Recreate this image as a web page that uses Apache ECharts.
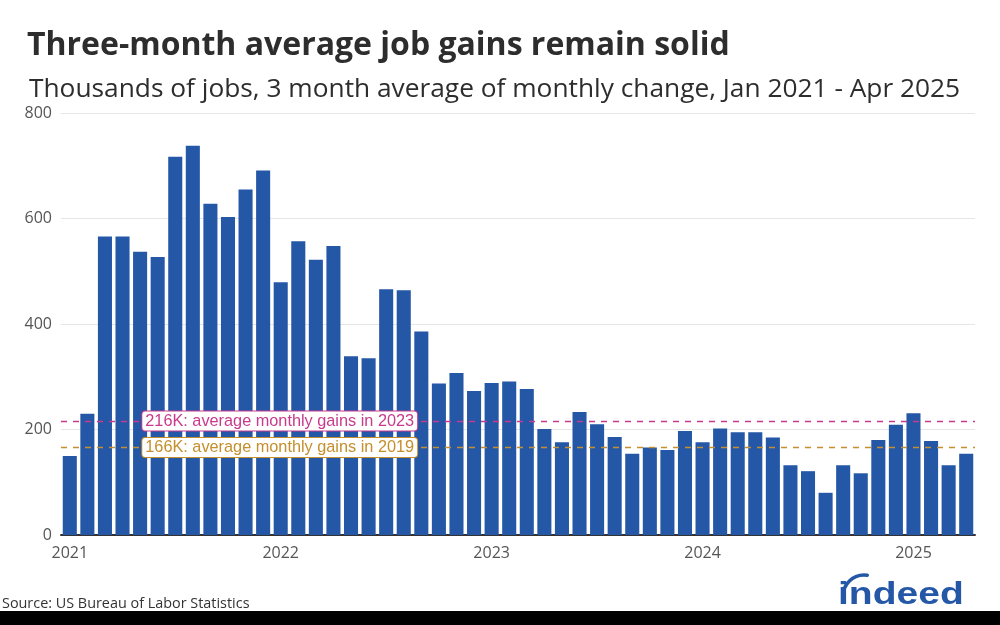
<!DOCTYPE html>
<html>
<head>
<meta charset="utf-8">
<script src="https://cdn.jsdelivr.net/npm/echarts@6/dist/echarts.min.js"></script>
<style>html,body{margin:0;padding:0;background:#fff}#c{width:1000px;height:625px}</style>
</head>
<body>
<div id="c"></div>
<script>
const months = [
  '2021-01','2021-02','2021-03','2021-04','2021-05','2021-06','2021-07','2021-08','2021-09','2021-10','2021-11','2021-12',
  '2022-01','2022-02','2022-03','2022-04','2022-05','2022-06','2022-07','2022-08','2022-09','2022-10','2022-11','2022-12',
  '2023-01','2023-02','2023-03','2023-04','2023-05','2023-06','2023-07','2023-08','2023-09','2023-10','2023-11','2023-12',
  '2024-01','2024-02','2024-03','2024-04','2024-05','2024-06','2024-07','2024-08','2024-09','2024-10','2024-11','2024-12',
  '2025-01','2025-02','2025-03','2025-04'
];
const jobGains = [
  150,230,566,566,537,527,717,738,628,603,655,691,
  479,557,522,548,339,335,466,464,386,287,307,273,
  288,291,277,201,176,233,210,186,154,166,161,197,
  176,202,195,195,185,132,121,80,132,117,180,209,
  231,178,132,154
];
const yTicks = [0, 200, 400, 600, 800];
const avg2023 = 216;
const avg2019 = 166;
const avg2023Label = '216K: average monthly gains in 2023';
const avg2019Label = '166K: average monthly gains in 2019';
const labelAnchorMonth = '2022-01';

const pink = '#c93a8c';
const gold = '#c48f2c';
const blue = '#2557a7';

const chart = echarts.init(document.getElementById('c'));
chart.setOption({
  animation: false,
  backgroundColor: '#fff',
  title: [
    { text: 'Three-month average job gains remain solid', left: 22, top: 25,
      textStyle: { fontFamily: 'Open Sans', fontSize: 32, fontWeight: 'bold', color: '#2d2d2d' } },
    { text: 'Thousands of jobs, 3 month average of monthly change, Jan 2021 - Apr 2025', left: 24, top: 72,
      textStyle: { fontFamily: 'Open Sans', fontSize: 26.3, fontWeight: 'normal', color: '#2d2d2d' } }
  ],
  grid: { left: 61, right: 25, top: 113, bottom: 90 },
  xAxis: {
    type: 'category',
    data: months,
    axisTick: { show: false },
    axisLine: { lineStyle: { color: '#333', width: 2 } },
    axisLabel: {
      interval: 0, margin: 10, fontFamily: 'Open Sans', fontSize: 16, color: '#555',
      formatter: v => v.endsWith('-01') ? v.slice(0, 4) : ''
    }
  },
  yAxis: {
    type: 'value', min: yTicks[0], max: yTicks[yTicks.length - 1], interval: 200,
    axisLine: { show: false }, axisTick: { show: false },
    axisLabel: { margin: 9, fontFamily: 'Open Sans', fontSize: 16, color: '#555' },
    splitLine: { lineStyle: { color: '#e6e6e6', width: 1 } }
  },
  series: [{
    type: 'bar',
    data: jobGains,
    barCategoryGap: '20%',
    itemStyle: { color: blue },
    markLine: {
      silent: true, symbol: 'none',
      label: { show: false },
      data: [
        { yAxis: avg2023, lineStyle: { color: pink, type: [6, 6], width: 1.3 } },
        { yAxis: avg2019, lineStyle: { color: gold, type: [6, 6], width: 1.3 } }
      ]
    },
    markPoint: {
      silent: true, z: 10,
      symbol: 'rect', symbolSize: 0,
      data: [
        { coord: [labelAnchorMonth, avg2023],
          label: { show: true, position: 'inside', formatter: avg2023Label, offset: [-1, 0],
            fontFamily: 'Liberation Sans', fontSize: 16.3, color: pink,
            backgroundColor: '#fff', borderColor: pink, borderWidth: 1, borderRadius: 3, padding: [2, 3, 1, 3] } },
        { coord: [labelAnchorMonth, avg2019],
          label: { show: true, position: 'inside', formatter: avg2019Label, offset: [-1, 0],
            fontFamily: 'Liberation Sans', fontSize: 16.3, color: gold,
            backgroundColor: '#fff', borderColor: gold, borderWidth: 1, borderRadius: 3, padding: [2, 3, 1, 3] } }
      ]
    }
  }],
  graphic: [
    { type: 'text', left: 2, top: 597,
      style: { text: 'Source: US Bureau of Labor Statistics', fontFamily: 'Open Sans', fontSize: 14.4, fill: '#333' } },
    { type: 'rect', shape: { x: 0, y: 611, width: 1000, height: 14 }, style: { fill: '#000' } },
    { type: 'text', x: 838, y: 595, scaleX: 1.22,
      style: { text: 'indeed', fontFamily: 'Liberation Sans', fontWeight: 'bold', fontSize: 32, fill: blue, textVerticalAlign: 'middle' } },
    { type: 'arc', shape: { cx: 864, cy: 596, r: 21, startAngle: Math.PI * 1.0, endAngle: Math.PI * 1.55 },
      style: { stroke: blue, lineWidth: 3.5, fill: 'none', lineCap: 'round' } }
  ]
});
</script>
</body>
</html>
